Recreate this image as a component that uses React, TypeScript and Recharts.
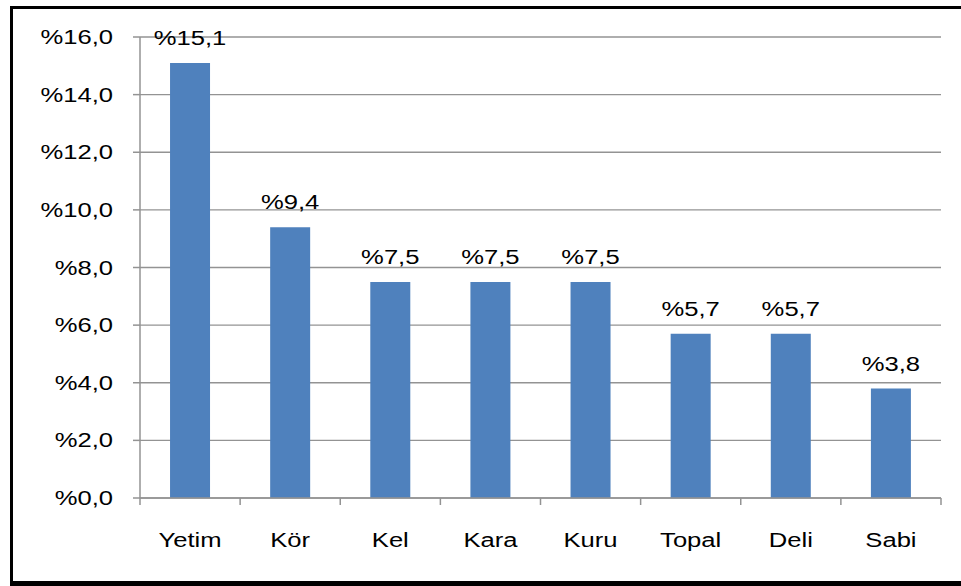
import React from 'react';
import { BarChart, Bar, XAxis, YAxis, CartesianGrid, LabelList } from 'recharts';

const categories = ['Yetim', 'Kör', 'Kel', 'Kara', 'Kuru', 'Topal', 'Deli', 'Sabi'];
const shares = [15.1, 9.4, 7.5, 7.5, 7.5, 5.7, 5.7, 3.8];
const yTicks = [0, 2, 4, 6, 8, 10, 12, 14, 16];

const data = categories.map((name, i) => ({ name, value: shares[i] }));

const W = 961;
const H = 586;
const PLOT_LEFT = 140;
const PLOT_RIGHT = 20;
const STRETCH = 1.22;
const FONT = '"Liberation Sans", Arial, sans-serif';
const GRID = '#939393';

const pct = (v: number) => '%' + v.toFixed(1).replace('.', ',');

const YTick = (props: any) => {
  const { x, y, payload } = props;
  return (
    <text
      transform={`translate(${x - 20}, ${y + 7}) scale(${STRETCH}, 1)`}
      textAnchor="end"
      fontSize={21}
      fontFamily={FONT}
      fill="#000"
    >
      {pct(payload.value)}
    </text>
  );
};

const XTick = (props: any) => {
  const { x, y, payload, index } = props;
  const band = (W - PLOT_LEFT - PLOT_RIGHT) / categories.length;
  const left = x - band / 2;
  return (
    <g>
      <line x1={left} x2={left} y1={y} y2={y + 7} stroke={GRID} strokeWidth={1.5} />
      {index === categories.length - 1 && (
        <line x1={left + band} x2={left + band} y1={y} y2={y + 7} stroke={GRID} strokeWidth={1.5} />
      )}
      <text
        transform={`translate(${x}, ${y + 49}) scale(${STRETCH}, 1)`}
        textAnchor="middle"
        fontSize={21}
        fontFamily={FONT}
        fill="#000"
      >
        {payload.value}
      </text>
    </g>
  );
};

const ValueLabel = (props: any) => {
  const { x, y, width, value } = props;
  return (
    <text
      transform={`translate(${x + width / 2}, ${y - 18}) scale(${STRETCH}, 1)`}
      textAnchor="middle"
      fontSize={21}
      fontFamily={FONT}
      fill="#000"
    >
      {pct(value)}
    </text>
  );
};

export default function App() {
  return (
    <div
      style={{
        position: 'absolute',
        left: 0,
        top: 0,
        width: W,
        height: H,
        overflow: 'hidden',
        background: '#fff',
      }}
    >
      <div
        style={{
          position: 'absolute',
          left: 10,
          top: 6,
          width: 1000,
          height: 580,
          boxSizing: 'border-box',
          borderLeft: '3px solid #000',
          borderTop: '3px solid #000',
          borderBottom: '5px solid #000',
        }}
      />
      <div style={{ position: 'absolute', left: 0, top: 0 }}>
        <BarChart
          width={W}
          height={H}
          data={data}
          margin={{ top: 37, right: PLOT_RIGHT, left: 0, bottom: 28 }}
          barCategoryGap="30%"
        >
          <CartesianGrid vertical={false} stroke={GRID} strokeWidth={1.3} />
          <XAxis
            dataKey="name"
            height={60}
            tickSize={0}
            tickMargin={0}
            tickLine={false}
            axisLine={{ stroke: GRID, strokeWidth: 1.5 }}
            tick={<XTick />}
            interval={0}
          />
          <YAxis
            width={PLOT_LEFT}
            domain={[0, 16]}
            ticks={yTicks}
            tickSize={7}
            tickMargin={0}
            tickLine={{ stroke: GRID, strokeWidth: 1.5 }}
            axisLine={{ stroke: GRID, strokeWidth: 1.5 }}
            tick={<YTick />}
            interval={0}
          />
          <Bar dataKey="value" fill="#4F81BD" isAnimationActive={false}>
            <LabelList dataKey="value" content={<ValueLabel />} />
          </Bar>
        </BarChart>
      </div>
    </div>
  );
}
